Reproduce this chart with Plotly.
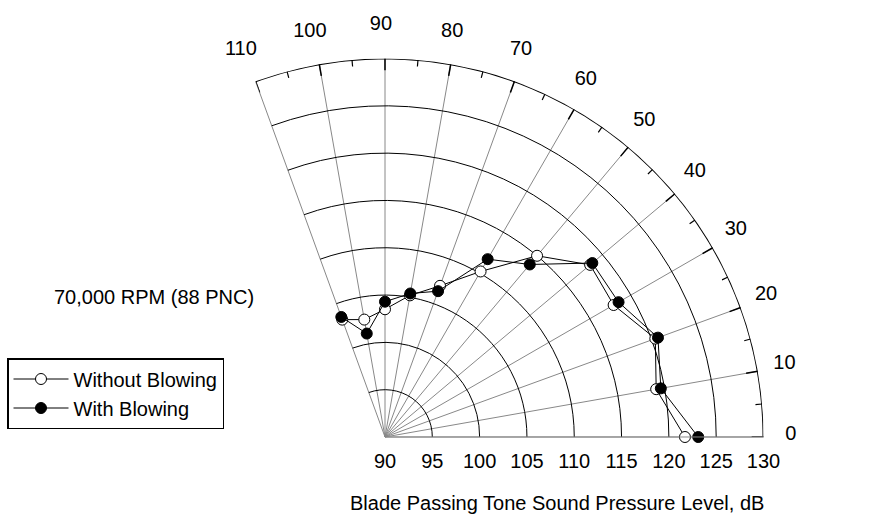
import plotly.graph_objects as go

# ---- data ----
angles = [0, 10, 20, 30, 40, 50, 60, 70, 80, 90, 100, 110]
spl_without = [121.7, 119.1, 120.4, 117.9, 118.3, 115.0, 110.2, 107.0, 105.2, 103.5, 102.6, 103.2]
spl_with = [123.1, 119.6, 120.7, 118.5, 118.6, 113.8, 111.7, 106.4, 105.4, 104.3, 101.1, 103.5]
radial_ticks = [90, 95, 100, 105, 110, 115, 120, 125, 130]
angular_ticks = [0, 10, 20, 30, 40, 50, 60, 70, 80, 90, 100, 110]
angular_labels = ["0", "10", "20", "30", "40", "50", "60", "70", "80", "90", "100", "110"]
minor_angles = [5, 15, 25, 35, 45, 55, 65, 75, 85, 95, 105]
r_min, r_max = 90, 130
sector = [0, 110]

FONT = "Liberation Sans, Arial, sans-serif"
FS = 20
W, H = 875, 525

# layout geometry (pixels): pole position and outer radius of the main polar
CX, CY, R_PX = 385, 437, 378.5
LABEL_RMAX = 134.0          # radial range of the overlay used for the angular labels
LABEL_R = 133.3             # radius at which angular labels sit
LABEL_SHIFT = (-4, -2)      # small pixel offset of the label overlay (x right, y down)
COS_END = 0.34202           # -cos(110 deg), left extent of the sector


def domain_for(radius_px, cx=CX, cy=CY):
    x0 = cx - COS_END * radius_px
    x1 = cx + radius_px
    return dict(x=[x0 / W, x1 / W], y=[(H - cy) / H, (H - cy + radius_px) / H])


fig = go.Figure()

# outer arc (frame) along r = r_max
arc_theta = list(range(sector[0], sector[1] + 1))
fig.add_trace(go.Scatterpolar(r=[r_max] * len(arc_theta), theta=arc_theta, mode="lines",
                              line=dict(color="black", width=2), showlegend=False, hoverinfo="skip"))


# tick marks on outer arc (inward)
def seg(thetas, r0, r1):
    rr, tt = [], []
    for t in thetas:
        rr += [r0, r1, None]
        tt += [t, t, None]
    return rr, tt


rr, tt = seg(angular_ticks, r_max - 1.25, r_max)
fig.add_trace(go.Scatterpolar(r=rr, theta=tt, mode="lines", line=dict(color="black", width=1.5),
                              showlegend=False, hoverinfo="skip", connectgaps=False))
rr, tt = seg(minor_angles, r_max - 0.7, r_max)
fig.add_trace(go.Scatterpolar(r=rr, theta=tt, mode="lines", line=dict(color="black", width=1.2),
                              showlegend=False, hoverinfo="skip", connectgaps=False))

fig.add_trace(go.Scatterpolar(
    r=spl_without, theta=angles, mode="lines+markers", name="Without Blowing",
    line=dict(color="black", width=1),
    marker=dict(symbol="circle", size=11, color="white", line=dict(color="black", width=1)),
))
fig.add_trace(go.Scatterpolar(
    r=spl_with, theta=angles, mode="lines+markers", name="With Blowing",
    line=dict(color="black", width=1),
    marker=dict(symbol="circle", size=11, color="black", line=dict(color="black", width=1)),
))

# angular tick labels on an invisible overlay polar with the same scale
fig.add_trace(go.Scatterpolar(
    r=[LABEL_R] * len(angular_ticks), theta=angular_ticks,
    mode="text", text=angular_labels, textposition="middle center",
    textfont=dict(size=FS, family=FONT, color="black"),
    cliponaxis=False, showlegend=False, hoverinfo="skip", subplot="polar2"))

fig.update_layout(
    width=W, height=H,
    margin=dict(l=0, r=0, t=0, b=0),
    paper_bgcolor="white",
    font=dict(family=FONT, size=FS, color="black"),
    polar=dict(
        domain=domain_for(R_PX),
        sector=sector,
        bgcolor="white",
        radialaxis=dict(
            range=[r_min, r_max], tickvals=radial_ticks, ticktext=[str(v) for v in radial_ticks],
            angle=0, side="clockwise", showline=True, linecolor="#888888", linewidth=1,
            gridcolor="black", gridwidth=1, ticks="outside", ticklen=7,
            tickcolor="rgba(0,0,0,0)", tickfont=dict(size=FS, family=FONT),
        ),
        angularaxis=dict(
            tickvals=angular_ticks, showticklabels=False,
            direction="counterclockwise", rotation=0,
            showline=False, ticks="",
            gridcolor="#888888", gridwidth=1,
        ),
    ),
    polar2=dict(
        domain=domain_for(R_PX * (LABEL_RMAX - r_min) / (r_max - r_min),
                          CX + LABEL_SHIFT[0], CY + LABEL_SHIFT[1]),
        sector=sector,
        bgcolor="rgba(0,0,0,0)",
        radialaxis=dict(range=[r_min, LABEL_RMAX], visible=False, showgrid=False),
        angularaxis=dict(visible=False, showgrid=False, direction="counterclockwise", rotation=0),
    ),
    legend=dict(
        x=7 / W, y=1 - 358 / H, xanchor="left", yanchor="top",
        bordercolor="black", borderwidth=1.5, bgcolor="white",
        font=dict(size=FS, family=FONT), tracegroupgap=0, itemwidth=55,
    ),
    annotations=[
        dict(text="70,000 RPM (88 PNC)", x=154 / W, y=1 - 297 / H, xref="paper", yref="paper",
             xanchor="center", yanchor="middle",
             showarrow=False, font=dict(size=FS, family=FONT)),
        dict(text="Blade Passing Tone Sound Pressure Level, dB", x=557 / W, y=1 - 503 / H,
             xref="paper", yref="paper", xanchor="center", yanchor="middle",
             showarrow=False, font=dict(size=FS, family=FONT)),
    ],
)

fig.write_html("out.html")
